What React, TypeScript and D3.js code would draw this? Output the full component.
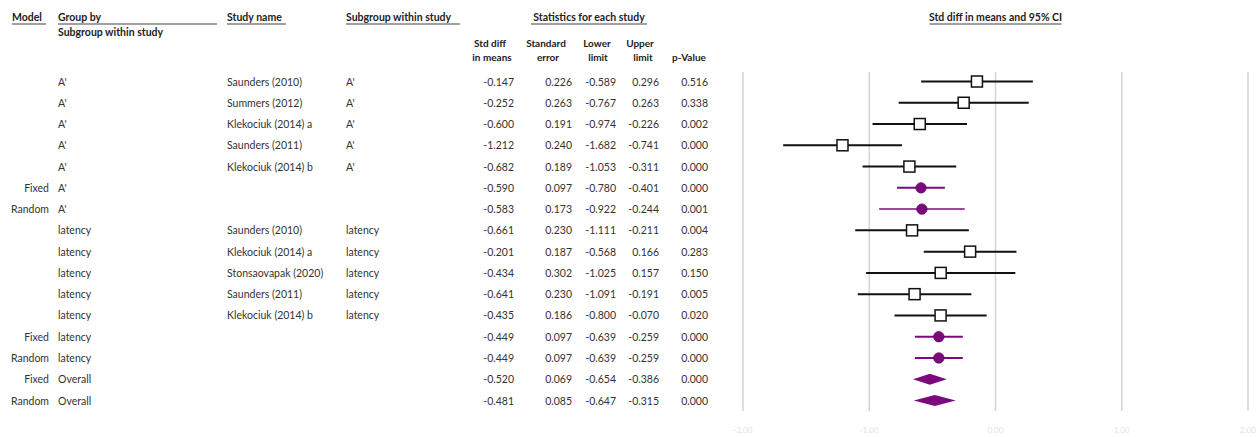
import React from 'react';
import * as d3 from 'd3';

// rows of the forest plot, top to bottom
const models = ['', '', '', '', '', 'Fixed', 'Random', '', '', '', '', '', 'Fixed', 'Random', 'Fixed', 'Random'];
const groups = ["A'", "A'", "A'", "A'", "A'", "A'", "A'", 'latency', 'latency', 'latency', 'latency', 'latency', 'latency', 'latency', 'Overall', 'Overall'];
const studies = ['Saunders (2010)', 'Summers (2012)', 'Klekociuk (2014) a', 'Saunders (2011)', 'Klekociuk (2014) b', '', '',
    'Saunders (2010)', 'Klekociuk (2014) a', 'Stonsaovapak (2020)', 'Saunders (2011)', 'Klekociuk (2014) b', '', '', '', ''];
const subgroups = ["A'", "A'", "A'", "A'", "A'", '', '', 'latency', 'latency', 'latency', 'latency', 'latency', '', '', '', ''];
const stdDiff = [-0.147, -0.252, -0.600, -1.212, -0.682, -0.590, -0.583, -0.661, -0.201, -0.434, -0.641, -0.435, -0.449, -0.449, -0.520, -0.481];
const stdErr = [0.226, 0.263, 0.191, 0.240, 0.189, 0.097, 0.173, 0.230, 0.187, 0.302, 0.230, 0.186, 0.097, 0.097, 0.069, 0.085];
const lower = [-0.589, -0.767, -0.974, -1.682, -1.053, -0.780, -0.922, -1.111, -0.568, -1.025, -1.091, -0.800, -0.639, -0.639, -0.654, -0.647];
const upper = [0.296, 0.263, -0.226, -0.741, -0.311, -0.401, -0.244, -0.211, 0.166, 0.157, -0.191, -0.070, -0.259, -0.259, -0.386, -0.315];
const pValues = [0.516, 0.338, 0.002, 0.000, 0.000, 0.000, 0.001, 0.004, 0.283, 0.150, 0.005, 0.020, 0.000, 0.000, 0.000, 0.000];
// 'study' = box, 'sub' = subgroup summary circle, 'overall' = diamond
const rowKinds = ['study', 'study', 'study', 'study', 'study', 'sub', 'sub', 'study', 'study', 'study', 'study', 'study', 'sub', 'sub', 'overall', 'overall'];
const axisTicks = [-2, -1, 0, 1, 2];

const FONT = 'Lato, "Open Sans", sans-serif';
const PURPLE = '#7d0a7d';

// plain hyphen for negatives, like the source table
const locale = d3.formatLocale({ decimal: '.', thousands: ',', grouping: [3], currency: ['', ''], minus: '-' });

export default function App() {
    const x = d3.scaleLinear().domain([-2, 2]).range([743, 1248]);
    const y = d3.scalePoint<number>().domain(d3.range(stdDiff.length)).range([81.5, 400.5]);
    const fmt = locale.format('.3f');
    const numCols = [
        { vals: stdDiff, right: 514 },
        { vals: stdErr, right: 572 },
        { vals: lower, right: 616 },
        { vals: upper, right: 659 },
        { vals: pValues, right: 708 },
    ];
    const txt = { fontFamily: FONT, fontSize: 10.5, fill: '#333' };
    const head = { fontFamily: FONT, fontSize: 10.5, fill: '#222', fontWeight: 700 };

    const underline = (x1: number, x2: number, yy: number) =>
        <line x1={x1} x2={x2} y1={yy} y2={yy} stroke="#444" strokeWidth={1.2} />;

    return (
        <svg width={1259} height={437} style={{ position: 'absolute', left: 0, top: 0, background: '#fff' }}>
            {/* headers */}
            <g style={head as any}>
                <text x={12} y={21}>Model</text>
                {underline(12, 46, 24)}
                <text x={58} y={21}>Group by</text>
                {underline(58, 217, 24)}
                <text x={58} y={36}>Subgroup within study</text>
                <text x={227} y={21}>Study name</text>
                {underline(227, 286, 24)}
                <text x={346} y={21}>Subgroup within study</text>
                {underline(346, 460, 24)}
                <text x={589} y={21} textAnchor="middle">Statistics for each study</text>
                {underline(531, 647, 24)}
                <text x={x(0)} y={21} textAnchor="middle">Std diff in means and 95% CI</text>
                {underline(x(0) - 66, x(0) + 66, 24)}
            </g>
            <g style={{ ...head, fontSize: 10 } as any} textAnchor="middle">
                <text x={490} y={47}>Std diff</text>
                <text x={492} y={61}>in means</text>
                <text x={546} y={47}>Standard</text>
                <text x={548} y={61}>error</text>
                <text x={597} y={47}>Lower</text>
                <text x={598} y={61}>limit</text>
                <text x={640} y={47}>Upper</text>
                <text x={643} y={61}>limit</text>
                <text x={689} y={61}>p-Value</text>
            </g>

            {/* grid + axis */}
            {axisTicks.map(t => (
                <g key={t}>
                    <line x1={x(t)} x2={x(t)} y1={72} y2={411} stroke="#d4d4d4" strokeWidth={1.5} />
                    <text x={x(t)} y={433} textAnchor="middle" style={{ fontFamily: FONT, fontSize: 8, fill: '#e2e2e2' }}>
                        {locale.format('.2f')(t)}
                    </text>
                </g>
            ))}

            {/* table rows */}
            {stdDiff.map((d, i) => {
                const yy = (y(i) as number) + 4;
                return (
                    <g key={'r' + i} style={txt as any}>
                        <text x={49} y={yy} textAnchor="end">{models[i]}</text>
                        <text x={58} y={yy}>{groups[i]}</text>
                        <text x={227} y={yy}>{studies[i]}</text>
                        <text x={346} y={yy}>{subgroups[i]}</text>
                        {numCols.map((c, j) => (
                            <text key={j} x={c.right} y={yy} textAnchor="end">{fmt(c.vals[i])}</text>
                        ))}
                    </g>
                );
            })}

            {/* marks */}
            {stdDiff.map((d, i) => {
                const yy = y(i) as number;
                const kind = rowKinds[i];
                if (kind === 'overall') {
                    const h = 5.5;
                    const pts = [[x(lower[i]), yy], [x(d), yy - h], [x(upper[i]), yy], [x(d), yy + h]];
                    return <path key={'m' + i} d={'M' + pts.map(p => p.join(',')).join('L') + 'Z'} fill={PURPLE} />;
                }
                if (kind === 'sub') {
                    return (
                        <g key={'m' + i}>
                            <line x1={x(lower[i])} x2={x(upper[i])} y1={yy} y2={yy} stroke={PURPLE} strokeWidth={i === 6 ? 1.5 : 2} />
                            <circle cx={x(d)} cy={yy} r={5.2} fill={PURPLE} stroke="#5a0a5a" strokeWidth={0.8} />
                        </g>
                    );
                }
                const s = 11;
                return (
                    <g key={'m' + i}>
                        <line x1={x(lower[i])} x2={x(upper[i])} y1={yy} y2={yy} stroke="#111" strokeWidth={2} />
                        <rect x={x(d) - s / 2} y={yy - s / 2} width={s} height={s} fill="#fff" stroke="#111" strokeWidth={1.5} />
                    </g>
                );
            })}
        </svg>
    );
}
